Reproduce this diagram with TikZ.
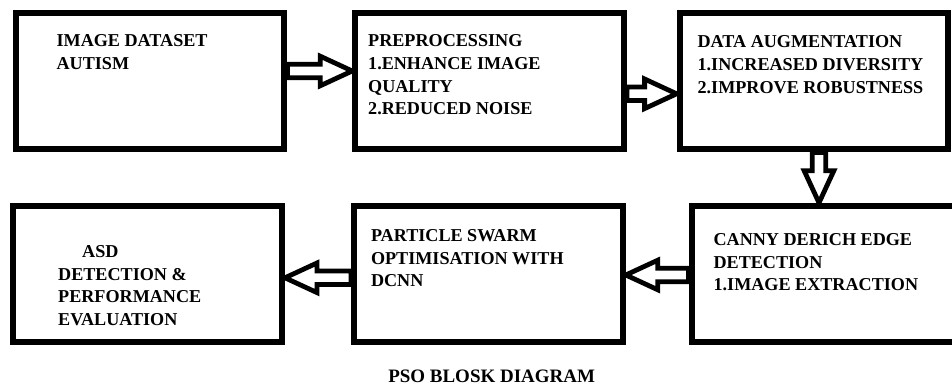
\documentclass[tikz,border=0pt]{standalone}
\usepackage{fontspec}
\setmainfont{Liberation Serif}
\usetikzlibrary{calc, positioning}
\tikzset{
  every picture/.style={line width=0.15cm},
  blk/.style={draw=black, fill=white, minimum width=6.72cm, minimum height=3.4cm, inner sep=0pt},
  txt/.style={font=\fontsize{12.9}{16.2}\selectfont\bfseries, align=left, inner sep=0pt, anchor=north west},
  hollow/.style={draw=black, fill=white, line width=0.12cm, line join=miter,
    to path={let \p1=($(\tikztotarget)!0.8cm!(\tikztostart)$) in
      ($(\tikztostart)!0.17cm!90:(\tikztotarget)$) -- ($(\p1)!0.17cm!90:(\tikztotarget)$)
      -- ($(\p1)!0.37cm!90:(\tikztotarget)$) -- (\tikztotarget)
      -- ($(\p1)!0.37cm!-90:(\tikztotarget)$) -- ($(\p1)!0.17cm!-90:(\tikztotarget)$)
      -- ($(\tikztostart)!0.17cm!-90:(\tikztotarget)$) -- cycle}},
  title/.style={font=\fontsize{13.5}{15}\selectfont\bfseries, inner sep=0pt, anchor=base},
}
\begin{document}
\begin{tikzpicture}
  \useasboundingbox (0,0) rectangle (23.8,9.675);
  % top row, left to right
  \node[blk] (b1) at (3.75,7.64) {};
  \node[blk] (b2) at (12.24,7.64) {};
  \node[blk] (b3) at (20.35,7.64) {};
  % bottom row, right to left
  \node[blk] (b6) at (20.65,2.83) {};
  \node[blk] (b5) at (12.21,2.83) {};
  \node[blk] (b4) at (3.69,2.83) {};

  \node[txt] (t1) at ([shift={(1.025,-0.53)}]b1.north west) {IMAGE DATASET\\AUTISM};
  \node[txt] (t2) at ([shift={(0.325,-0.53)}]b2.north west) {PREPROCESSING\\1.ENHANCE IMAGE\\QUALITY\\2.REDUCED NOISE};
  \node[txt] (t3) at ([shift={(0.45,-0.56)}]b3.north west) {DATA AUGMENTATION\\1.INCREASED DIVERSITY\\2.IMPROVE ROBUSTNESS};
  \node[txt] (t6) at ([shift={(0.55,-0.69)}]b6.north west) {CANNY DERICH EDGE\\DETECTION\\1.IMAGE EXTRACTION};
  \node[txt] (t5) at ([shift={(0.425,-0.59)}]b5.north west) {PARTICLE SWARM\\OPTIMISATION WITH\\DCNN};
  \node[txt] (t4) at ([shift={(1.125,-0.99)}]b4.north west) {\hspace*{0.6cm}ASD\\DETECTION \&\\PERFORMANCE\\EVALUATION};

  \draw[hollow] ([yshift=0.26cm]b1.east) to ([yshift=0.26cm]b1.east -| b2.west);
  \draw[hollow] ([yshift=-0.31cm]b2.east) to ([yshift=-0.31cm]b2.east -| b3.west);
  \draw[hollow] ([xshift=0.125cm]b3.south) to ([xshift=0.125cm]b3.south |- b6.north);
  \draw[hollow] ([yshift=-0.03cm]b6.west) to ([yshift=-0.03cm]b6.west -| b5.east);
  \draw[hollow] ([yshift=-0.1cm]b5.west) to ([yshift=-0.1cm]b5.west -| b4.east);

  \node[title] (cap) at (12.29,0.1) {PSO BLOSK DIAGRAM};
\end{tikzpicture}
\end{document}
